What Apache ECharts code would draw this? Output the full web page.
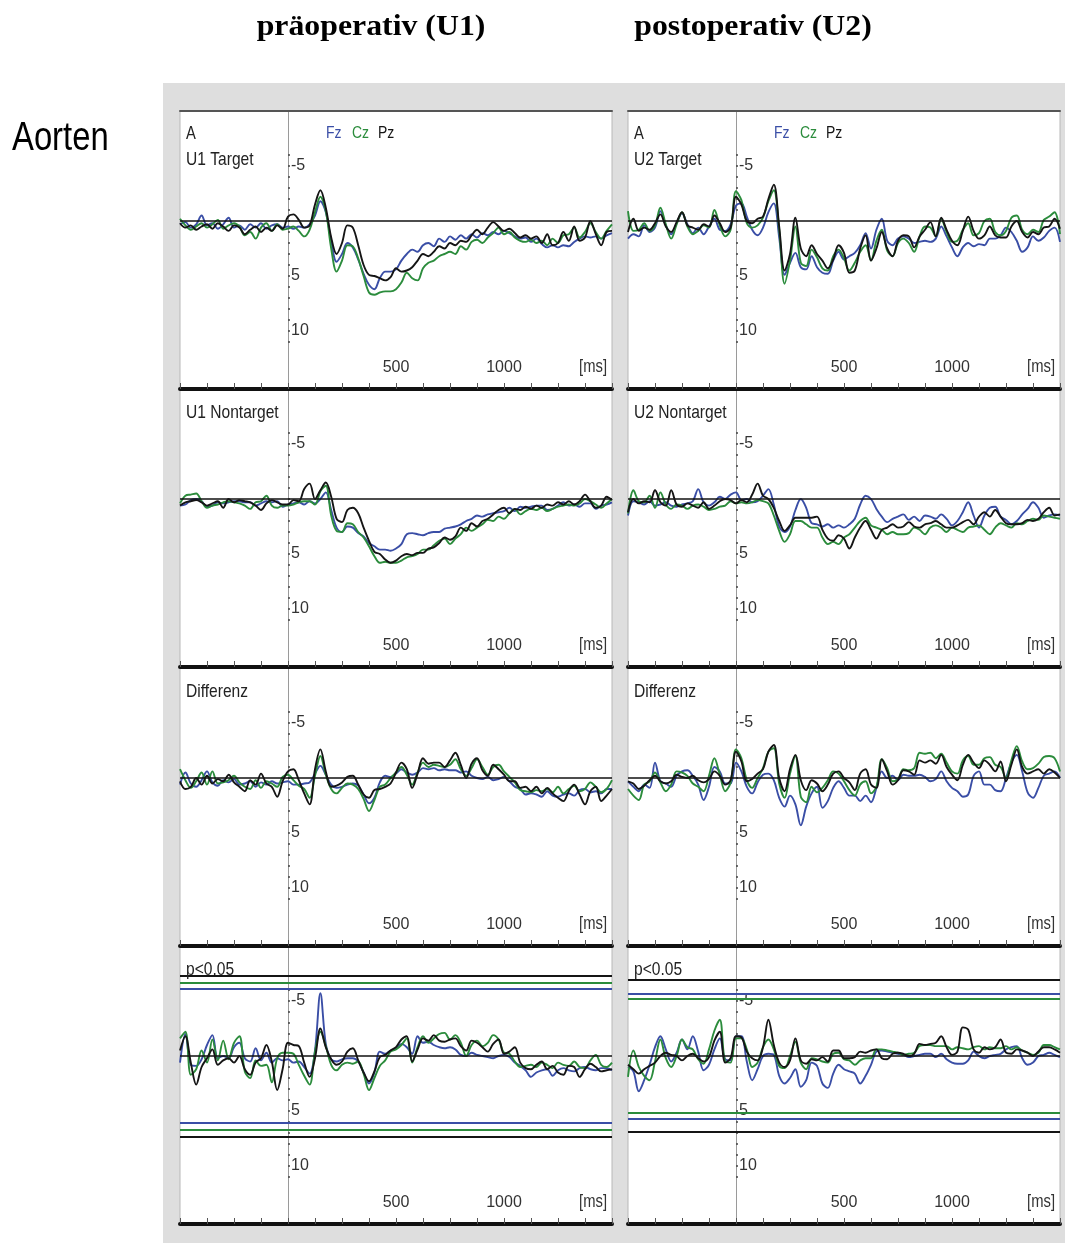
<!DOCTYPE html>
<html>
<head>
<meta charset="utf-8">
<script src="https://cdn.jsdelivr.net/npm/echarts@6/dist/echarts.min.js"></script>
<style>
  html, body { margin: 0; padding: 0; background: #ffffff; }
  #chart { width: 1065px; height: 1243px; }
</style>
</head>
<body>
<div id="chart"></div>
<script>
// Sampling times of the averaged ERP traces (ms relative to stimulus onset)
const TIME_MS = [
  -500,-475,-450,-425,-400,-375,-350,-325,-300,-275,-250,-225,-200,-175,-150,-125,-100,-75,-50,-25,
  0,25,50,75,100,125,150,175,200,225,250,275,300,325,350,375,400,425,450,475,
  500,525,550,575,600,625,650,675,700,725,750,775,800,825,850,875,900,925,950,975,
  1000,1025,1050,1075,1100,1125,1150,1175,1200,1225,1250,1275,1300,1325,1350,1375,1400,1425,1450,1475,
  1500
];

// Amplitudes in µV (negative up). Fz = blue, Cz = green, Pz = black.
// --- U1 Target ---
const U1_TARGET_FZ = [0.3,0.1,0.6,0.3,-0.5,0.4,0.2,0.7,0.3,-0.3,0.6,0.4,0.8,0.3,0.6,0.2,0.7,0.4,0.3,0.6,
  0.5,0.7,0.5,0.6, 0.3,-0.5,-1.8,-0.8, 1.8,3.7,3.0,2.0, 2.4,3.5,4.8,5.8, 6.2,5.2,4.6,4.6, 4.4,3.6,3.0,2.6, 2.8,2.2,2.0,2.3, 1.6,1.9,1.4,1.7, 1.3,1.6,1.2,1.5, 1.1,1.3,1.0,1.2, 0.9,1.1,1.4,1.6, 1.5,1.9,1.6,2.1, 2.4,2.2,2.4,2.2, 2.3,1.9,1.6,1.4, 1.5,1.4,1.6,1.3, 1.1];
const U1_TARGET_CZ = [-0.2,0.4,0.8,0.5,0.2,0.6,0.3,-0.1,0.7,0.4,0.2,0.5,1.3,1.0,1.6,0.6,0.2,0.9,0.3,0.8,
  0.7,0.5,0.9,1.4, 0.8,-0.8,-2.2,-0.9, 2.5,4.6,3.6,2.2, 2.3,3.4,5.0,6.5, 6.7,6.5,6.4,6.4, 6.2,5.6,4.7,5.2, 5.4,4.3,3.8,3.6, 3.2,3.0,2.8,3.0, 2.3,2.6,1.9,1.7, 2.0,1.5,1.1,0.6, 1.2,1.0,1.5,1.8, 1.9,1.7,2.0,1.8, 2.2,1.6,2.0,1.3, 1.2,0.6,1.5,1.0, 0.2,1.0,1.6,0.9, 0.3];
const U1_TARGET_PZ = [0.2,0.6,0.4,0.8,0.5,0.3,0.7,0.2,0.5,0.9,0.4,0.6,1.2,0.8,0.5,1.0,0.6,0.9,0.4,0.7,
  -0.4,-0.6,-0.1,0.6, 0.4,-1.5,-2.8,-1.2, 1.5,3.0,2.0,0.4, 0.6,2.2,4.0,4.9, 5.0,5.2,5.4,5.1, 4.3,4.6,4.5,4.2, 3.6,3.0,3.2,2.8, 2.3,2.5,2.0,2.2, 1.8,1.9,1.3,0.8, 1.2,0.6,0.1,0.5, 0.9,0.7,1.1,1.5, 1.3,1.6,1.4,2.0, 1.2,2.2,2.0,1.0, 1.8,0.5,1.8,1.5, 0.0,1.2,2.2,1.0, 0.9];

// --- U2 Target ---
const U2_TARGET_FZ = [1.6,1.2,1.4,0.4,1.0,0.6,-0.9,0.4,1.2,0.2,-0.7,0.3,1.1,0.6,1.2,0.5,-0.2,0.8,0.9,0.3,
  -1.4,-1.6,-0.4,0.8, 1.3,0.6,-0.8,-1.6, 1.5,4.9,3.8,2.9, 4.2,4.4,3.2,4.2, 4.7,4.8,3.6,2.8, 3.5,3.2,2.9,2.2, 1.1,2.5,0.8,-0.2, 1.8,2.2,1.6,1.4, 1.6,2.0,1.9,1.8, 1.9,1.6,0.5,1.4, 2.4,3.2,2.4,2.0, 2.3,2.1,2.2,1.6, 1.6,1.3,0.6,1.0, 1.8,2.8,2.4,1.4, 1.8,1.5,0.9,0.6, 1.9];
const U2_TARGET_CZ = [-0.9,0.9,0.8,0.2,0.9,0.4,-1.2,0.3,1.6,0.3,-0.8,0.5,1.2,0.9,0.4,0.6,-1.0,0.4,1.4,0.8,
  -2.7,-1.9,0.2,0.6, 0.4,-0.3,-1.8,-2.8, 0.8,5.7,3.6,0.5, 3.8,4.1,2.6,3.3, 4.3,4.5,3.2,2.6, 3.4,4.5,3.8,2.8, 2.2,3.6,1.8,0.8, 2.7,3.2,2.0,1.6, 2.0,2.8,1.4,0.5, 0.6,1.4,-0.2,1.0, 1.9,1.8,0.8,0.2, 1.3,1.1,0.0,-0.2, 1.0,1.3,0.9,-0.3, -0.5,0.8,1.2,0.8, 1.0,-0.1,-0.4,-0.8, 1.2];
const U2_TARGET_PZ = [1.0,-0.2,0.9,0.6,0.8,0.2,-0.6,0.5,1.0,0.1,-0.8,0.4,0.6,0.8,0.3,0.5,-0.5,0.2,1.0,0.6,
  -2.2,-1.5,0.0,0.2, -0.2,-0.4,-2.0,-3.3, 0.5,4.5,3.0,-0.3, 2.5,3.2,2.2,3.0, 3.6,4.3,3.5,2.2, 2.9,4.7,4.5,2.5, 1.3,3.6,2.5,1.0, 2.5,3.2,1.8,1.3, 1.4,2.4,1.4,0.8, 0.1,1.4,-0.3,0.8, 1.8,2.2,0.9,-0.4, 0.9,1.6,1.3,0.5, 1.3,1.5,1.5,0.5, 0.0,1.0,1.5,1.0, 1.2,0.6,0.5,-0.2, 0.7];

// --- U1 Nontarget ---
const U1_NONTARGET_FZ = [0.6,0.5,0.1,0.0,0.2,0.7,0.6,0.3,0.4,0.3,0.2,0.2,0.3,0.3,0.6,0.4,0.2,0.3,0.2,0.7,
  0.5,0.4,0.3,0.5, 0.2,0.4,0.0,-0.6, 1.0,2.6,3.0,2.5, 2.6,3.1,3.4,4.0, 4.3,4.6,4.6,4.7, 4.5,4.1,3.2,3.1, 3.2,3.3,3.1,3.0, 3.0,2.7,2.6,2.5, 2.3,2.0,1.8,1.5, 1.6,1.4,1.3,1.2, 1.1,0.8,1.1,0.7, 0.8,0.7,0.6,0.6, 1.0,0.9,0.6,0.3, 0.6,0.5,0.7,0.4, 0.4,0.9,0.6,0.5, 0.3];
const U1_NONTARGET_CZ = [0.4,-0.3,-0.4,-0.5,0.2,0.8,0.6,0.5,0.3,0.2,0.3,0.4,0.6,0.9,0.3,0.2,-0.3,0.6,0.8,0.6,
  0.6,0.5,0.3,0.2, 0.2,0.5,-0.7,-1.2, 1.5,2.9,3.0,2.2, 2.3,3.0,3.5,4.3, 5.2,5.8,5.7,5.8, 5.8,5.6,5.3,5.2, 5.0,4.6,4.6,4.2, 3.8,3.6,4.1,3.6, 3.2,2.6,2.9,2.6, 2.3,1.9,2.0,1.6, 1.8,1.3,0.9,1.4, 1.1,0.9,1.0,0.8, 1.1,0.9,0.7,0.6, 0.5,0.6,0.4,0.0, 0.2,0.5,0.8,0.4, 0.0];
const U1_NONTARGET_PZ = [0.6,0.3,0.2,0.1,0.3,0.6,0.4,0.2,0.8,0.0,0.3,0.1,0.2,0.3,0.6,1.0,0.4,0.1,0.3,0.5,
  0.5,0.1,0.2,-0.9, -1.4,0.0,-0.8,-1.5, -0.2,1.8,2.1,1.0, 0.8,1.3,2.6,3.8, 4.8,5.0,5.5,5.8, 5.6,5.2,5.0,5.1, 4.9,4.9,4.5,4.4, 4.0,3.5,3.7,3.4, 2.6,2.9,2.2,2.5, 2.0,1.8,1.4,1.0, 0.8,1.3,0.9,1.0, 0.7,0.9,0.6,0.8, 0.5,0.6,0.3,0.5, 0.2,0.5,0.2,-0.4, 0.2,0.8,0.6,-0.2, 0.1];

// --- U2 Nontarget ---
const U2_NONTARGET_FZ = [1.5,0.2,0.3,0.5,0.2,0.6,0.5,0.3,0.6,0.7,0.5,0.4,0.2,-0.9,0.3,0.6,0.3,-0.2,0.0,-0.4,
  -0.6,0.1,0.0,0.3, 0.2,-0.3,-0.9,0.5, 2.5,3.0,2.5,1.0, 0.0,0.8,2.2,2.3, 2.5,2.3,2.6,2.4, 2.6,2.3,1.8,0.5, -0.3,0.0,0.9,1.6, 2.1,1.8,1.6,1.4, 1.9,1.6,2.0,1.5, 1.6,1.8,1.4,1.8, 2.4,2.0,1.2,0.3, 1.5,2.6,1.5,0.8, 0.7,1.6,1.9,2.3, 2.0,1.4,0.9,0.3, 0.8,1.7,1.5,1.4, 1.5];
const U2_NONTARGET_CZ = [1.3,-0.8,0.2,0.3,-0.3,0.8,-0.6,0.5,0.9,0.5,0.6,0.9,0.6,0.5,0.7,1.0,0.9,0.7,0.6,0.2,
  0.4,0.3,0.4,0.3, 0.1,0.2,0.4,1.5, 2.9,3.9,3.2,2.0, 2.0,2.3,2.6,2.6, 3.5,4.1,3.9,4.1, 3.5,3.2,2.6,2.0, 1.7,2.4,2.6,2.8, 3.2,3.0,3.2,3.2, 3.1,2.6,2.8,3.2, 2.6,2.4,2.6,3.0, 2.6,2.8,3.0,2.6, 2.5,2.4,2.8,3.2, 2.6,2.2,2.4,2.6, 2.2,2.3,2.0,1.8, 1.9,1.5,1.6,1.7, 1.8];
const U2_NONTARGET_PZ = [1.2,0.0,0.4,0.2,0.3,-0.8,0.3,0.6,-0.8,0.5,0.7,0.4,0.6,0.8,0.3,0.9,0.6,0.2,0.0,0.1,
  0.4,0.1,0.3,-0.4, -1.4,-0.3,0.0,0.8, 2.0,2.9,2.4,1.7, 1.7,1.7,1.7,1.6, 2.8,3.6,3.8,3.3, 3.6,4.5,3.5,2.6, 2.0,2.8,3.6,2.8, 2.6,2.3,2.6,2.5, 2.1,2.5,2.6,2.3, 2.2,2.0,2.3,2.6, 2.6,2.4,2.1,1.9, 2.3,1.6,1.2,1.6, 1.0,1.6,2.2,2.3, 2.3,2.2,1.9,2.0, 1.8,1.2,0.8,1.5, 1.4];

// --- U1 Differenz (Target - Nontarget) ---
const U1_DIFF_FZ = [0.6,-0.5,0.5,0.8,0.2,-0.6,0.4,0.7,0.2,0.4,0.1,0.6,0.5,0.3,0.8,0.4,0.6,0.3,0.5,0.4,
  0.3,0.6,0.6,0.5, 0.4,-0.4,-1.1,-0.3, 0.6,0.9,0.8,0.6, 0.5,0.7,1.5,2.3, 1.8,0.4,-0.2,-0.1, -0.4,-0.8,-0.5,-0.3, -0.5,-0.9,-0.8,-0.9, -0.7,-0.8,-0.7,-0.7, -0.5,-0.6,-0.2,0.0, 0.1,-0.1,0.2,0.1, -0.1,0.3,0.8,1.0, 1.5,1.4,1.5,1.7, 1.2,1.6,1.7,1.5, 1.4,1.6,1.1,1.0, 1.3,1.2,1.4,1.0, 1.0];
const U1_DIFF_CZ = [-0.8,0.2,0.9,0.3,-0.5,0.6,-0.6,0.5,0.4,0.2,-0.2,0.4,0.8,1.0,0.2,0.9,0.3,0.5,0.8,-0.1,
  -0.3,0.2,0.7,1.0, 1.8,-0.2,-2.0,-0.3, 1.0,1.4,0.9,0.5, 0.6,1.0,1.9,3.0, 2.0,0.8,0.6,0.0, -0.5,-1.0,-0.3,0.6, -0.5,-1.4,-1.0,-1.2, -1.1,-1.0,-1.2,-1.7, -0.8,-0.2,-0.9,-1.7, -1.0,-0.3,-1.0,-1.2, -0.6,-0.1,0.4,1.1, 1.2,1.3,1.1,1.2, 1.0,1.3,0.8,1.4, 1.0,0.7,1.2,1.0, 0.4,0.8,1.3,1.0, 0.2];
const U1_DIFF_PZ = [0.3,1.0,0.8,0.0,0.6,-0.2,0.5,0.1,0.3,-0.3,0.4,0.8,1.2,0.2,0.6,-0.4,0.5,0.8,1.7,0.3,
  -0.6,-0.8,0.2,1.4, 2.4,-0.8,-2.6,-0.6, 0.8,0.7,0.4,-0.1, -0.2,0.6,1.5,1.8, 1.1,1.0,0.8,0.5, -0.5,-1.4,-0.8,0.9, -0.4,-1.8,-1.3,-1.4, -1.4,-1.0,-1.6,-2.3, -1.2,0.0,-1.3,-1.8, -0.7,-0.2,-1.2,-0.8, -0.3,0.3,0.3,0.9, 0.8,1.2,0.8,1.4, 0.9,1.4,1.8,2.1, 1.2,0.6,1.5,2.4, 1.2,0.8,2.1,1.6, 1.0];

// --- U2 Differenz ---
const U2_DIFF_FZ = [0.3,0.8,1.2,0.6,0.9,-1.4,0.3,0.5,0.8,-0.2,-0.6,-0.7,-0.2,0.6,2.0,0.8,-1.0,-0.6,0.5,0.5,
  -1.4,-0.6,0.8,1.4, 0.4,-0.3,-0.4,0.2, 1.8,2.6,1.6,2.4, 4.3,2.6,1.4,0.8, 2.7,2.1,0.9,0.3, 0.9,1.6,1.6,2.1, 1.6,2.2,0.9,-0.6, 0.0,-0.2,0.2,-0.3, -0.2,-0.2,-0.3,-0.1, 0.3,0.1,-0.6,0.3, 0.9,1.2,1.7,1.5, -0.2,-0.6,0.6,0.6, 1.1,1.2,0.0,-1.4, -2.1,-0.6,1.3,1.8, 0.9,-0.2,-0.4,-0.6, 0.0];
const U2_DIFF_CZ = [1.0,1.6,2.0,0.6,0.3,-0.5,0.4,1.2,0.6,-0.6,-0.5,-0.2,0.5,0.8,1.2,-0.2,-1.8,-0.3,1.2,0.4,
  -2.6,-1.8,0.2,0.9, 0.0,-0.9,-2.4,-2.7, 0.5,1.8,-0.4,-2.0, 1.7,2.2,0.8,1.3, 0.9,0.2,-0.6,-0.4, 0.3,1.1,1.6,0.6, 0.3,1.4,0.8,-1.7, -0.9,0.3,0.1,-0.8, -0.7,-0.9,-2.3,-2.2, -2.3,-1.8,-2.2,-1.4, -0.6,-0.4,-1.6,-2.0, -1.2,-1.2,-1.8,-1.9, -1.2,-1.0,0.0,-1.6, -2.9,-1.5,-0.8,-0.9, -1.3,-1.9,-2.0,-1.8, -0.6];
const U2_DIFF_PZ = [0.3,0.5,1.0,0.7,0.2,-0.2,0.3,0.5,0.3,-0.3,-0.1,0.0,-0.2,0.2,0.4,0.1,-0.6,-0.2,0.6,0.2,
  -2.4,-1.5,0.3,0.1, -0.4,-0.8,-2.4,-3.0, 0.0,1.2,-0.8,-2.1, 0.2,1.1,0.2,0.5, 1.2,0.6,-0.4,-0.6, 0.0,0.4,1.1,-0.4, -0.8,0.6,0.9,-1.7, -0.6,0.6,0.2,-0.7, -0.6,-0.3,-1.6,-1.4, -1.6,-1.3,-2.1,-1.0, -0.3,0.2,-1.2,-2.1, -1.4,-0.9,-1.6,-1.2, -0.6,-1.5,0.3,-1.2, -2.6,-1.0,-0.4,-0.6, -0.8,-0.4,-0.8,-0.5, 0.0];

// --- U1 p<0.05 ---
const U1_P_FZ = [0.6,-2.0,0.8,0.9,0.3,-1.0,-1.9,0.2,0.0,0.2,-0.8,-1.2,0.2,0.5,-0.7,0.4,-0.3,0.6,0.2,0.4,
  0.3,0.6,0.5,1.0, 1.6,-0.5,-5.7,-1.1, 0.3,0.5,0.3,0.2, 0.2,0.5,1.5,2.5, 1.5,-0.4,-0.2,-0.5, -0.7,-1.1,-0.8,-0.2, -1.8,-1.2,-1.3,-1.0, -0.8,-0.7,-0.8,-0.6, -0.1,0.0,-0.3,-0.1, 0.0,0.1,0.2,0.0, -0.1,0.1,0.6,0.9, 1.3,1.9,1.5,1.3, 1.2,1.8,1.3,1.1, 1.3,1.4,1.1,1.0, 1.2,1.3,1.1,1.1, 1.3];
const U1_P_CZ = [-1.6,-2.2,1.7,1.2,-0.5,0.6,-1.5,0.4,-1.4,0.3,-1.2,-1.8,1.4,2.0,0.4,0.9,0.8,2.4,0.2,-0.3,
  -0.3,-0.2,0.8,1.8, 2.6,-0.4,-2.2,-0.9, 0.8,1.3,0.8,0.6, 0.7,0.5,1.6,3.1, 2.0,0.9,0.4,-0.4, -0.6,-1.0,-1.6,0.6, -0.8,-1.8,-1.2,-1.6, -2.0,-2.1,-1.5,-1.9, -1.2,0.0,-1.0,-1.4, -0.9,-1.2,-1.9,-1.5, -0.3,-0.2,0.5,1.0, 0.9,0.8,1.0,0.6, 0.8,1.1,0.6,0.8, 0.9,0.5,1.0,1.1, 0.4,-0.1,0.8,1.0, 0.6];
const U1_P_PZ = [-0.5,-1.8,0.6,2.6,1.0,0.2,-0.6,0.8,0.4,0.2,0.6,0.0,1.2,1.7,0.6,0.2,-1.0,0.5,3.1,1.2,
  -1.2,-1.0,-0.9,0.6, 1.9,0.2,-2.5,-0.8, 0.3,0.8,0.5,-0.4, -0.7,0.4,1.5,2.3, 1.4,0.1,-0.1,-0.5, -0.8,-1.5,-1.8,0.5, -0.6,-1.6,-1.4,-1.9, -1.4,-1.3,-1.5,-1.6, -0.9,-0.5,-1.4,-1.2, -0.8,-0.4,-1.1,-1.5, -0.2,-0.4,-0.8,0.6, 1.1,1.2,0.8,0.5, 1.2,0.9,1.5,1.7, 0.9,1.0,1.9,1.2, 0.7,1.0,1.4,1.3, 1.2];

// --- U2 p<0.05 ---
const U2_P_FZ = [1.0,1.4,3.2,2.2,0.8,-0.8,-1.8,-0.6,0.5,-0.3,-1.5,-0.6,-1.8,-0.4,1.3,0.8,-0.6,-1.6,0.3,0.4,
  -1.8,-1.8,0.5,2.2, 1.2,0.0,-0.2,-0.1, 1.8,2.5,2.0,1.2, 2.8,2.2,0.6,0.9, 2.5,2.9,1.6,0.8, 1.2,1.4,1.6,2.5, 1.8,0.8,-0.4,-0.5, -0.4,-0.3,-0.2,-0.1, 0.1,0.0,-0.1,-0.2, -0.2,0.1,-0.2,0.3, 0.6,0.7,0.7,0.4, -0.4,0.0,0.2,0.0, -0.1,-0.2,-0.6,-0.8, -0.9,0.2,0.8,0.6, 0.0,-0.1,-0.3,-0.1, 0.1];
const U2_P_CZ = [1.9,-0.5,1.0,1.8,2.2,0.5,-1.5,0.2,1.0,0.0,-1.5,-0.8,-0.6,0.3,0.7,-0.6,-2.3,-3.3,0.5,0.6,
  -1.6,-1.6,-0.6,1.0, 0.6,-0.8,-1.5,-0.6, 0.9,1.1,0.0,-1.3, 0.6,1.2,0.2,0.3, 0.5,0.6,-0.2,-0.3, 0.3,0.4,0.8,0.4, 0.2,0.2,-0.6,-0.6, -0.5,-0.4,-0.3,-0.1, -0.2,-0.3,-0.9,-1.0, -1.0,-0.9,-0.9,-0.9, -0.6,-0.8,-0.7,-0.6, -0.8,-0.9,-0.6,-0.8, -0.7,-0.7,-0.9,-0.6, -0.8,-0.5,-0.3,-0.1, -0.3,-1.0,-1.0,-0.8, -0.6];
const U2_P_PZ = [0.8,1.2,1.6,1.2,0.9,0.6,0.0,-0.3,-0.1,0.0,0.4,0.0,-0.2,0.2,0.5,0.1,-1.4,-2.2,0.6,0.2,
  -1.8,-1.7,-0.4,0.2, 0.4,-0.8,-3.3,-1.0, 0.6,1.0,0.4,-1.6, 0.4,0.7,0.3,0.4, 0.1,0.5,-0.5,-0.5, 0.2,0.2,0.1,-0.4, -0.3,-0.5,-0.6,0.2, 0.3,-0.2,-0.3,-0.2, 0.0,-0.2,-1.1,-1.0, -1.1,-1.2,-1.8,-0.8, -0.1,-0.4,-2.6,-2.4, -0.6,-0.3,-0.8,-0.6, -0.8,-1.5,-0.3,-0.2, -0.6,-0.5,-0.3,0.0, -0.4,-0.8,-0.8,-0.6, -0.3];

// Significance bounds (±µV) for p<0.05, per electrode: [Fz, Cz, Pz]
const U1_P_BOUNDS = [6.1, 6.7, 7.3];
const U2_P_BOUNDS = [5.7, 5.2, 6.9];

// Axis tick labels
const X_LABELS = [500, 1000];
const Y_LABELS = [-5, 5, 10];
const ELECTRODES = ['Fz', 'Cz', 'Pz'];
const COLUMN_TITLES = ['präoperativ (U1)', 'postoperativ (U2)'];
const ROW_GROUP = 'Aorten';

// ---------- layout & style ----------
const COLORS = ['#3a4ea6', '#2b8c3c', '#151515'];
const SANS = '"Liberation Sans", Arial, sans-serif';
const SERIF = '"Liberation Serif", "Times New Roman", serif';
const NARROW_X = 0.82;            // horizontal squeeze for the condensed caption lettering
const COL_LEFT = [180, 628];
const COL_WIDTH = 432;
const ROW_TOP = [111, 389, 668, 946];
const ROW_HEIGHT = 278;
const X_MIN = -500, X_MAX = 1500;
const ZERO_OFFSET = 110;          // px from panel top to the 0 µV line
const PX_PER_UV = 11;
const Y_MIN = -ZERO_OFFSET / PX_PER_UV;
const Y_MAX = (ROW_HEIGHT - ZERO_OFFSET) / PX_PER_UV;
// shift of the amplitude axis from the panel's left edge onto stimulus onset (t = 0)
const ONSET_SHIFT = COL_WIDTH * (0 - X_MIN) / (X_MAX - X_MIN);

const PANELS = [
  { row: 0, col: 0, name: 'U1 Target', head: 'A', traces: [U1_TARGET_FZ, U1_TARGET_CZ, U1_TARGET_PZ] },
  { row: 0, col: 1, name: 'U2 Target', head: 'A', traces: [U2_TARGET_FZ, U2_TARGET_CZ, U2_TARGET_PZ] },
  { row: 1, col: 0, name: 'U1 Nontarget', traces: [U1_NONTARGET_FZ, U1_NONTARGET_CZ, U1_NONTARGET_PZ] },
  { row: 1, col: 1, name: 'U2 Nontarget', traces: [U2_NONTARGET_FZ, U2_NONTARGET_CZ, U2_NONTARGET_PZ] },
  { row: 2, col: 0, name: 'Differenz', traces: [U1_DIFF_FZ, U1_DIFF_CZ, U1_DIFF_PZ] },
  { row: 2, col: 1, name: 'Differenz', traces: [U2_DIFF_FZ, U2_DIFF_CZ, U2_DIFF_PZ] },
  { row: 3, col: 0, name: 'p<0.05', traces: [U1_P_FZ, U1_P_CZ, U1_P_PZ], bounds: U1_P_BOUNDS },
  { row: 3, col: 1, name: 'p<0.05', traces: [U2_P_FZ, U2_P_CZ, U2_P_PZ], bounds: U2_P_BOUNDS }
];

const yTicks = [];
for (let v = -6; v <= 11; v++) yTicks.push(v);

function caption(text, x, y, size, fill, align) {
  return {
    type: 'text', x: x, y: y, z: 50, scaleX: NARROW_X,
    style: { text: text, fill: fill, font: size + 'px ' + SANS, align: align || 'left', verticalAlign: 'middle' }
  };
}

const grids = [], xAxes = [], yAxes = [], series = [], texts = [];

PANELS.forEach((p, i) => {
  const left = COL_LEFT[p.col], top = ROW_TOP[p.row];
  grids.push({
    left: left, top: top, width: COL_WIDTH, height: ROW_HEIGHT,
    show: true, backgroundColor: '#ffffff', borderColor: '#b8b8b8', borderWidth: 1
  });
  xAxes.push({
    gridIndex: i, type: 'value', min: X_MIN, max: X_MAX, interval: 125, position: 'bottom',
    axisLine: { onZero: false, lineStyle: { color: '#111111', width: 4 } },
    axisTick: { inside: true, length: 6, lineStyle: { color: '#555555', width: 1 } },
    axisLabel: {
      inside: true, margin: 13, color: '#333333', fontSize: 16, fontFamily: SANS,
      formatter: v => (X_LABELS.indexOf(v) >= 0 ? String(v) : '')
    },
    splitLine: { show: false }
  });
  yAxes.push({
    gridIndex: i, type: 'value', inverse: true, min: Y_MIN, max: Y_MAX,
    position: 'left', offset: -ONSET_SHIFT,
    axisLine: { show: true, onZero: false, lineStyle: { color: '#9a9a9a', width: 1 } },
    axisTick: { show: true, inside: true, length: 2, customValues: yTicks, lineStyle: { color: '#444444', width: 1.5 } },
    axisLabel: { inside: true, margin: 3, color: '#333333', fontSize: 16, fontFamily: SANS, customValues: Y_LABELS },
    splitLine: { show: false }
  });

  p.traces.forEach((vals, k) => {
    const s = {
      type: 'line', xAxisIndex: i, yAxisIndex: i, name: ELECTRODES[k],
      data: TIME_MS.map((t, j) => [t, vals[j]]),
      showSymbol: false, smooth: 0.35, silent: true,
      lineStyle: { color: COLORS[k], width: 1.9 }, itemStyle: { color: COLORS[k] },
      z: 3 + k
    };
    const lines = [];
    if (k === 0) lines.push({ yAxis: 0, lineStyle: { color: '#111111', width: 1.6, type: 'solid' } });
    if (p.bounds) {
      lines.push({ yAxis: -p.bounds[k], lineStyle: { color: COLORS[k], width: 2, type: 'solid' } });
      lines.push({ yAxis: p.bounds[k], lineStyle: { color: COLORS[k], width: 2, type: 'solid' } });
    }
    if (lines.length) {
      s.markLine = { silent: true, symbol: ['none', 'none'], label: { show: false }, animation: false, data: lines };
    }
    series.push(s);
  });

  // panel captions
  const tx = left + 6;
  if (p.head) {
    texts.push(caption(p.head, tx, top + 23, 18, '#222222'));
    texts.push(caption(p.name, tx, top + 49, 19, '#222222'));
    ELECTRODES.forEach((e, k) => {
      texts.push(caption(e, left + 146 + k * 26, top + 22, 17, COLORS[k]));
    });
  } else {
    texts.push(caption(p.name, tx, top + 24, 19, '#222222'));
  }
  texts.push(caption('[ms]', left + COL_WIDTH - 5, top + ROW_HEIGHT - 22, 18, '#333333', 'right'));
});

// dark upper frame line of the first row
[0, 1].forEach(i => {
  xAxes.push({
    gridIndex: i, type: 'value', min: X_MIN, max: X_MAX, position: 'top',
    axisLine: { onZero: false, lineStyle: { color: '#555555', width: 2 } },
    axisTick: { show: false }, axisLabel: { show: false }, splitLine: { show: false }
  });
});

const graphics = [
  { type: 'rect', z: -10, shape: { x: 163, y: 83, width: 902, height: 1160 }, style: { fill: '#dedede' } },
  { type: 'text', x: 371, y: 27, z: 50, scaleX: 1.06,
    style: { text: COLUMN_TITLES[0], fill: '#000000', font: 'bold 30px ' + SERIF, align: 'center', verticalAlign: 'middle' } },
  { type: 'text', x: 753, y: 27, z: 50, scaleX: 1.06,
    style: { text: COLUMN_TITLES[1], fill: '#000000', font: 'bold 30px ' + SERIF, align: 'center', verticalAlign: 'middle' } },
  caption(ROW_GROUP, 12, 139, 40, '#000000')
].concat(texts);

const chart = echarts.init(document.getElementById('chart'), null, { renderer: 'canvas' });
chart.setOption({
  animation: false,
  backgroundColor: '#ffffff',
  grid: grids,
  xAxis: xAxes,
  yAxis: yAxes,
  series: series,
  graphic: { elements: graphics }
});
</script>
</body>
</html>
